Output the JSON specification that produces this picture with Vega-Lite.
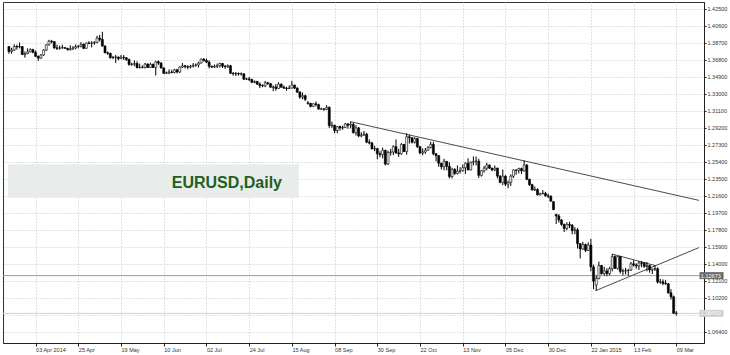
{
  "$schema": "https://vega.github.io/schema/vega-lite/v6.json",
  "autosize": {"type": "none"},
  "padding": {"left": 3, "top": 2, "right": 26, "bottom": 12},
  "width": 701,
  "height": 341,
  "background": "white",
  "config": {
    "view": {"stroke": "#333333", "strokeWidth": 1},
    "axis": {"labelFont": "Liberation Sans", "labelFontSize": 5.5, "labelColor": "#333333", "domainColor": "#222222", "tickColor": "#222222", "gridColor": "#c4c4c4", "gridDash": [1, 2], "labelOverlap": false, "labelFlush": false, "labelBound": false}
  },
  "datasets": {
    "bars": [
      {"i":-10,"o":1.3830,"h":1.3835,"l":1.3750,"c":1.3775},
      {"i":-9,"o":1.3775,"h":1.3815,"l":1.3750,"c":1.3790},
      {"i":-8,"o":1.3790,"h":1.3855,"l":1.3780,"c":1.3830},
      {"i":-7,"o":1.3830,"h":1.3850,"l":1.3795,"c":1.3825},
      {"i":-6,"o":1.3825,"h":1.3875,"l":1.3810,"c":1.3830},
      {"i":-5,"o":1.3830,"h":1.3835,"l":1.3735,"c":1.3740},
      {"i":-4,"o":1.3740,"h":1.3775,"l":1.3705,"c":1.3750},
      {"i":-3,"o":1.3750,"h":1.3810,"l":1.3745,"c":1.3770},
      {"i":-2,"o":1.3770,"h":1.3810,"l":1.3765,"c":1.3795},
      {"i":-1,"o":1.3795,"h":1.3805,"l":1.3755,"c":1.3765},
      {"i":0,"o":1.3765,"h":1.3785,"l":1.3715,"c":1.3720},
      {"i":1,"o":1.3720,"h":1.3730,"l":1.3670,"c":1.3700},
      {"i":2,"o":1.3700,"h":1.3745,"l":1.3695,"c":1.3735},
      {"i":3,"o":1.3735,"h":1.3800,"l":1.3725,"c":1.3790},
      {"i":4,"o":1.3790,"h":1.3855,"l":1.3780,"c":1.3850},
      {"i":5,"o":1.3850,"h":1.3905,"l":1.3840,"c":1.3890},
      {"i":6,"o":1.3890,"h":1.3905,"l":1.3865,"c":1.3885},
      {"i":7,"o":1.3885,"h":1.3890,"l":1.3805,"c":1.3815},
      {"i":8,"o":1.3815,"h":1.3850,"l":1.3790,"c":1.3810},
      {"i":9,"o":1.3810,"h":1.3840,"l":1.3795,"c":1.3815},
      {"i":10,"o":1.3815,"h":1.3850,"l":1.3805,"c":1.3818},
      {"i":11,"o":1.3818,"h":1.3825,"l":1.3805,"c":1.3810},
      {"i":12,"o":1.3810,"h":1.3815,"l":1.3785,"c":1.3795},
      {"i":13,"o":1.3795,"h":1.3845,"l":1.3785,"c":1.3805},
      {"i":14,"o":1.3805,"h":1.3835,"l":1.3790,"c":1.3815},
      {"i":15,"o":1.3815,"h":1.3855,"l":1.3800,"c":1.3830},
      {"i":16,"o":1.3830,"h":1.3845,"l":1.3810,"c":1.3835},
      {"i":17,"o":1.3835,"h":1.3880,"l":1.3820,"c":1.3855},
      {"i":18,"o":1.3855,"h":1.3865,"l":1.3800,"c":1.3810},
      {"i":19,"o":1.3810,"h":1.3875,"l":1.3805,"c":1.3870},
      {"i":20,"o":1.3870,"h":1.3890,"l":1.3855,"c":1.3865},
      {"i":21,"o":1.3865,"h":1.3890,"l":1.3820,"c":1.3870},
      {"i":22,"o":1.3870,"h":1.3890,"l":1.3850,"c":1.3875},
      {"i":23,"o":1.3875,"h":1.3950,"l":1.3865,"c":1.3925},
      {"i":24,"o":1.3925,"h":1.3960,"l":1.3885,"c":1.3910},
      {"i":25,"o":1.3910,"h":1.3995,"l":1.3830,"c":1.3835},
      {"i":26,"o":1.3835,"h":1.3845,"l":1.3755,"c":1.3760},
      {"i":27,"o":1.3760,"h":1.3775,"l":1.3735,"c":1.3755},
      {"i":28,"o":1.3755,"h":1.3760,"l":1.3695,"c":1.3705},
      {"i":29,"o":1.3705,"h":1.3725,"l":1.3690,"c":1.3710},
      {"i":30,"o":1.3710,"h":1.3735,"l":1.3645,"c":1.3712},
      {"i":31,"o":1.3712,"h":1.3720,"l":1.3675,"c":1.3695},
      {"i":32,"o":1.3695,"h":1.3735,"l":1.3690,"c":1.3710},
      {"i":33,"o":1.3710,"h":1.3735,"l":1.3680,"c":1.3705},
      {"i":34,"o":1.3705,"h":1.3710,"l":1.3670,"c":1.3685},
      {"i":35,"o":1.3685,"h":1.3695,"l":1.3615,"c":1.3630},
      {"i":36,"o":1.3630,"h":1.3650,"l":1.3615,"c":1.3632},
      {"i":37,"o":1.3632,"h":1.3675,"l":1.3610,"c":1.3640},
      {"i":38,"o":1.3640,"h":1.3665,"l":1.3585,"c":1.3595},
      {"i":39,"o":1.3595,"h":1.3640,"l":1.3585,"c":1.3598},
      {"i":40,"o":1.3598,"h":1.3620,"l":1.3585,"c":1.3595},
      {"i":41,"o":1.3595,"h":1.3645,"l":1.3585,"c":1.3635},
      {"i":42,"o":1.3635,"h":1.3640,"l":1.3590,"c":1.3595},
      {"i":43,"o":1.3595,"h":1.3650,"l":1.3590,"c":1.3630},
      {"i":44,"o":1.3630,"h":1.3640,"l":1.3590,"c":1.3595},
      {"i":45,"o":1.3595,"h":1.3670,"l":1.3505,"c":1.3660},
      {"i":46,"o":1.3660,"h":1.3675,"l":1.3625,"c":1.3645},
      {"i":47,"o":1.3645,"h":1.3655,"l":1.3585,"c":1.3590},
      {"i":48,"o":1.3590,"h":1.3600,"l":1.3525,"c":1.3530},
      {"i":49,"o":1.3530,"h":1.3550,"l":1.3525,"c":1.3535},
      {"i":50,"o":1.3535,"h":1.3575,"l":1.3520,"c":1.3545},
      {"i":51,"o":1.3545,"h":1.3570,"l":1.3530,"c":1.3540},
      {"i":52,"o":1.3540,"h":1.3580,"l":1.3530,"c":1.3570},
      {"i":53,"o":1.3570,"h":1.3580,"l":1.3530,"c":1.3545},
      {"i":54,"o":1.3545,"h":1.3610,"l":1.3535,"c":1.3600},
      {"i":55,"o":1.3600,"h":1.3645,"l":1.3590,"c":1.3615},
      {"i":56,"o":1.3615,"h":1.3625,"l":1.3585,"c":1.3605},
      {"i":57,"o":1.3605,"h":1.3620,"l":1.3575,"c":1.3600},
      {"i":58,"o":1.3600,"h":1.3625,"l":1.3585,"c":1.3610},
      {"i":59,"o":1.3610,"h":1.3645,"l":1.3595,"c":1.3620},
      {"i":60,"o":1.3620,"h":1.3640,"l":1.3605,"c":1.3623},
      {"i":61,"o":1.3623,"h":1.3660,"l":1.3595,"c":1.3645},
      {"i":62,"o":1.3645,"h":1.3695,"l":1.3640,"c":1.3690},
      {"i":63,"o":1.3690,"h":1.3700,"l":1.3660,"c":1.3675},
      {"i":64,"o":1.3675,"h":1.3695,"l":1.3645,"c":1.3655},
      {"i":65,"o":1.3655,"h":1.3675,"l":1.3585,"c":1.3610},
      {"i":66,"o":1.3610,"h":1.3615,"l":1.3590,"c":1.3600},
      {"i":67,"o":1.3600,"h":1.3630,"l":1.3590,"c":1.3610},
      {"i":68,"o":1.3610,"h":1.3640,"l":1.3590,"c":1.3615},
      {"i":69,"o":1.3615,"h":1.3650,"l":1.3595,"c":1.3640},
      {"i":70,"o":1.3640,"h":1.3645,"l":1.3590,"c":1.3610},
      {"i":71,"o":1.3610,"h":1.3625,"l":1.3580,"c":1.3605},
      {"i":72,"o":1.3605,"h":1.3630,"l":1.3590,"c":1.3615},
      {"i":73,"o":1.3615,"h":1.3625,"l":1.3525,"c":1.3530},
      {"i":74,"o":1.3530,"h":1.3545,"l":1.3505,"c":1.3525},
      {"i":75,"o":1.3525,"h":1.3545,"l":1.3500,"c":1.3528},
      {"i":76,"o":1.3528,"h":1.3540,"l":1.3505,"c":1.3522},
      {"i":77,"o":1.3522,"h":1.3540,"l":1.3505,"c":1.3525},
      {"i":78,"o":1.3525,"h":1.3530,"l":1.3455,"c":1.3465},
      {"i":79,"o":1.3465,"h":1.3480,"l":1.3455,"c":1.3468},
      {"i":80,"o":1.3468,"h":1.3490,"l":1.3445,"c":1.3460},
      {"i":81,"o":1.3460,"h":1.3470,"l":1.3420,"c":1.3430},
      {"i":82,"o":1.3430,"h":1.3450,"l":1.3420,"c":1.3440},
      {"i":83,"o":1.3440,"h":1.3445,"l":1.3400,"c":1.3410},
      {"i":84,"o":1.3410,"h":1.3430,"l":1.3365,"c":1.3395},
      {"i":85,"o":1.3395,"h":1.3405,"l":1.3375,"c":1.3390},
      {"i":86,"o":1.3390,"h":1.3445,"l":1.3375,"c":1.3425},
      {"i":87,"o":1.3425,"h":1.3435,"l":1.3400,"c":1.3415},
      {"i":88,"o":1.3415,"h":1.3420,"l":1.3370,"c":1.3375},
      {"i":89,"o":1.3375,"h":1.3395,"l":1.3330,"c":1.3378},
      {"i":90,"o":1.3378,"h":1.3410,"l":1.3335,"c":1.3360},
      {"i":91,"o":1.3360,"h":1.3430,"l":1.3355,"c":1.3410},
      {"i":92,"o":1.3410,"h":1.3415,"l":1.3370,"c":1.3375},
      {"i":93,"o":1.3375,"h":1.3395,"l":1.3355,"c":1.3365},
      {"i":94,"o":1.3365,"h":1.3380,"l":1.3335,"c":1.3360},
      {"i":95,"o":1.3360,"h":1.3395,"l":1.3355,"c":1.3365},
      {"i":96,"o":1.3365,"h":1.3445,"l":1.3360,"c":1.3400},
      {"i":97,"o":1.3400,"h":1.3402,"l":1.3355,"c":1.3365},
      {"i":98,"o":1.3365,"h":1.3375,"l":1.3310,"c":1.3320},
      {"i":99,"o":1.3320,"h":1.3330,"l":1.3245,"c":1.3265},
      {"i":100,"o":1.3265,"h":1.3315,"l":1.3240,"c":1.3280},
      {"i":101,"o":1.3280,"h":1.3290,"l":1.3220,"c":1.3240},
      {"i":102,"o":1.3200,"h":1.3220,"l":1.3180,"c":1.3195},
      {"i":103,"o":1.3195,"h":1.3200,"l":1.3150,"c":1.3160},
      {"i":104,"o":1.3160,"h":1.3195,"l":1.3155,"c":1.3190},
      {"i":105,"o":1.3190,"h":1.3215,"l":1.3160,"c":1.3180},
      {"i":106,"o":1.3180,"h":1.3190,"l":1.3125,"c":1.3130},
      {"i":107,"o":1.3130,"h":1.3145,"l":1.3120,"c":1.3133},
      {"i":108,"o":1.3133,"h":1.3140,"l":1.3110,"c":1.3128},
      {"i":109,"o":1.3128,"h":1.3175,"l":1.3120,"c":1.3150},
      {"i":110,"o":1.3150,"h":1.3160,"l":1.2920,"c":1.2945},
      {"i":111,"o":1.2945,"h":1.2990,"l":1.2920,"c":1.2950},
      {"i":112,"o":1.2950,"h":1.2955,"l":1.2860,"c":1.2890},
      {"i":113,"o":1.2890,"h":1.2940,"l":1.2860,"c":1.2935},
      {"i":114,"o":1.2935,"h":1.2945,"l":1.2890,"c":1.2920},
      {"i":115,"o":1.2920,"h":1.2945,"l":1.2900,"c":1.2925},
      {"i":116,"o":1.2925,"h":1.2975,"l":1.2920,"c":1.2965},
      {"i":117,"o":1.2965,"h":1.2970,"l":1.2910,"c":1.2950},
      {"i":118,"o":1.2950,"h":1.2990,"l":1.2915,"c":1.2960},
      {"i":119,"o":1.2960,"h":1.2975,"l":1.2860,"c":1.2865},
      {"i":120,"o":1.2865,"h":1.2950,"l":1.2835,"c":1.2920},
      {"i":121,"o":1.2920,"h":1.2930,"l":1.2815,"c":1.2830},
      {"i":122,"o":1.2830,"h":1.2870,"l":1.2815,"c":1.2840},
      {"i":123,"o":1.2840,"h":1.2885,"l":1.2830,"c":1.2850},
      {"i":124,"o":1.2850,"h":1.2865,"l":1.2750,"c":1.2760},
      {"i":125,"o":1.2760,"h":1.2790,"l":1.2735,"c":1.2750},
      {"i":126,"o":1.2750,"h":1.2765,"l":1.2680,"c":1.2685},
      {"i":127,"o":1.2685,"h":1.2720,"l":1.2660,"c":1.2688},
      {"i":128,"o":1.2688,"h":1.2695,"l":1.2570,"c":1.2630},
      {"i":129,"o":1.2630,"h":1.2660,"l":1.2590,"c":1.2620},
      {"i":130,"o":1.2620,"h":1.2700,"l":1.2580,"c":1.2670},
      {"i":131,"o":1.2670,"h":1.2675,"l":1.2500,"c":1.2515},
      {"i":132,"o":1.2515,"h":1.2665,"l":1.2505,"c":1.2645},
      {"i":133,"o":1.2645,"h":1.2685,"l":1.2610,"c":1.2650},
      {"i":134,"o":1.2650,"h":1.2725,"l":1.2615,"c":1.2710},
      {"i":135,"o":1.2710,"h":1.2790,"l":1.2630,"c":1.2640},
      {"i":136,"o":1.2640,"h":1.2685,"l":1.2595,"c":1.2630},
      {"i":137,"o":1.2630,"h":1.2750,"l":1.2620,"c":1.2735},
      {"i":138,"o":1.2735,"h":1.2740,"l":1.2650,"c":1.2655},
      {"i":139,"o":1.2655,"h":1.2860,"l":1.2620,"c":1.2820},
      {"i":140,"o":1.2820,"h":1.2845,"l":1.2745,"c":1.2810},
      {"i":141,"o":1.2810,"h":1.2815,"l":1.2745,"c":1.2760},
      {"i":142,"o":1.2760,"h":1.2815,"l":1.2745,"c":1.2800},
      {"i":143,"o":1.2800,"h":1.2810,"l":1.2695,"c":1.2710},
      {"i":144,"o":1.2710,"h":1.2715,"l":1.2625,"c":1.2640},
      {"i":145,"o":1.2640,"h":1.2690,"l":1.2615,"c":1.2650},
      {"i":146,"o":1.2650,"h":1.2695,"l":1.2630,"c":1.2670},
      {"i":147,"o":1.2670,"h":1.2715,"l":1.2665,"c":1.2700},
      {"i":148,"o":1.2700,"h":1.2765,"l":1.2690,"c":1.2735},
      {"i":149,"o":1.2735,"h":1.2765,"l":1.2615,"c":1.2630},
      {"i":150,"o":1.2630,"h":1.2640,"l":1.2545,"c":1.2610},
      {"i":151,"o":1.2610,"h":1.2615,"l":1.2485,"c":1.2525},
      {"i":152,"o":1.2525,"h":1.2530,"l":1.2455,"c":1.2485},
      {"i":153,"o":1.2485,"h":1.2575,"l":1.2445,"c":1.2545},
      {"i":154,"o":1.2545,"h":1.2550,"l":1.2445,"c":1.2490},
      {"i":155,"o":1.2490,"h":1.2535,"l":1.2355,"c":1.2375},
      {"i":156,"o":1.2375,"h":1.2475,"l":1.2355,"c":1.2455},
      {"i":157,"o":1.2455,"h":1.2470,"l":1.2395,"c":1.2410},
      {"i":158,"o":1.2410,"h":1.2500,"l":1.2400,"c":1.2435},
      {"i":159,"o":1.2435,"h":1.2480,"l":1.2410,"c":1.2440},
      {"i":160,"o":1.2440,"h":1.2510,"l":1.2430,"c":1.2475},
      {"i":161,"o":1.2475,"h":1.2535,"l":1.2405,"c":1.2525},
      {"i":162,"o":1.2525,"h":1.2580,"l":1.2445,"c":1.2450},
      {"i":163,"o":1.2450,"h":1.2545,"l":1.2445,"c":1.2535},
      {"i":164,"o":1.2535,"h":1.2600,"l":1.2500,"c":1.2545},
      {"i":165,"o":1.2545,"h":1.2600,"l":1.2500,"c":1.2548},
      {"i":166,"o":1.2548,"h":1.2575,"l":1.2360,"c":1.2390},
      {"i":167,"o":1.2390,"h":1.2445,"l":1.2375,"c":1.2440},
      {"i":168,"o":1.2440,"h":1.2495,"l":1.2420,"c":1.2470},
      {"i":169,"o":1.2470,"h":1.2530,"l":1.2445,"c":1.2505},
      {"i":170,"o":1.2505,"h":1.2510,"l":1.2460,"c":1.2470},
      {"i":171,"o":1.2470,"h":1.2475,"l":1.2435,"c":1.2450},
      {"i":172,"o":1.2450,"h":1.2500,"l":1.2435,"c":1.2470},
      {"i":173,"o":1.2470,"h":1.2475,"l":1.2355,"c":1.2380},
      {"i":174,"o":1.2380,"h":1.2390,"l":1.2300,"c":1.2310},
      {"i":175,"o":1.2310,"h":1.2455,"l":1.2280,"c":1.2380},
      {"i":176,"o":1.2380,"h":1.2390,"l":1.2270,"c":1.2290},
      {"i":177,"o":1.2290,"h":1.2330,"l":1.2245,"c":1.2310},
      {"i":178,"o":1.2310,"h":1.2400,"l":1.2270,"c":1.2380},
      {"i":179,"o":1.2380,"h":1.2455,"l":1.2360,"c":1.2450},
      {"i":180,"o":1.2450,"h":1.2455,"l":1.2395,"c":1.2445},
      {"i":181,"o":1.2445,"h":1.2475,"l":1.2410,"c":1.2465},
      {"i":182,"o":1.2465,"h":1.2475,"l":1.2405,"c":1.2440},
      {"i":183,"o":1.2440,"h":1.2555,"l":1.2430,"c":1.2505},
      {"i":184,"o":1.2505,"h":1.2515,"l":1.2335,"c":1.2345},
      {"i":185,"o":1.2345,"h":1.2350,"l":1.2270,"c":1.2285},
      {"i":186,"o":1.2285,"h":1.2295,"l":1.2220,"c":1.2225},
      {"i":187,"o":1.2225,"h":1.2265,"l":1.2215,"c":1.2230},
      {"i":188,"o":1.2230,"h":1.2245,"l":1.2165,"c":1.2170},
      {"i":189,"o":1.2170,"h":1.2195,"l":1.2165,"c":1.2185},
      {"i":190,"o":1.2185,"h":1.2225,"l":1.2175,"c":1.2188},
      {"i":191,"o":1.2188,"h":1.2205,"l":1.2150,"c":1.2160},
      {"i":192,"o":1.2160,"h":1.2185,"l":1.2135,"c":1.2155},
      {"i":193,"o":1.2155,"h":1.2165,"l":1.2095,"c":1.2100},
      {"i":194,"o":1.2095,"h":1.2100,"l":1.2000,"c":1.2005},
      {"i":195,"o":1.1950,"h":1.1960,"l":1.1845,"c":1.1935},
      {"i":196,"o":1.1935,"h":1.1955,"l":1.1860,"c":1.1890},
      {"i":197,"o":1.1890,"h":1.1900,"l":1.1825,"c":1.1840},
      {"i":198,"o":1.1840,"h":1.1850,"l":1.1755,"c":1.1795},
      {"i":199,"o":1.1795,"h":1.1865,"l":1.1775,"c":1.1840},
      {"i":200,"o":1.1840,"h":1.1870,"l":1.1800,"c":1.1830},
      {"i":201,"o":1.1830,"h":1.1845,"l":1.1730,"c":1.1770},
      {"i":202,"o":1.1770,"h":1.1810,"l":1.1730,"c":1.1780},
      {"i":203,"o":1.1780,"h":1.1800,"l":1.1570,"c":1.1625},
      {"i":204,"o":1.1625,"h":1.1630,"l":1.1460,"c":1.1565},
      {"i":205,"o":1.1565,"h":1.1645,"l":1.1555,"c":1.1615},
      {"i":206,"o":1.1615,"h":1.1625,"l":1.1530,"c":1.1550},
      {"i":207,"o":1.1550,"h":1.1640,"l":1.1545,"c":1.1610},
      {"i":208,"o":1.1610,"h":1.1680,"l":1.1315,"c":1.1365},
      {"i":209,"o":1.1365,"h":1.1390,"l":1.1115,"c":1.1205},
      {"i":210,"o":1.1160,"h":1.1270,"l":1.1098,"c":1.1235},
      {"i":211,"o":1.1235,"h":1.1425,"l":1.1225,"c":1.1380},
      {"i":212,"o":1.1380,"h":1.1385,"l":1.1280,"c":1.1290},
      {"i":213,"o":1.1290,"h":1.1365,"l":1.1265,"c":1.1320},
      {"i":214,"o":1.1320,"h":1.1350,"l":1.1260,"c":1.1290},
      {"i":215,"o":1.1290,"h":1.1365,"l":1.1270,"c":1.1345},
      {"i":216,"o":1.1345,"h":1.1510,"l":1.1315,"c":1.1480},
      {"i":217,"o":1.1480,"h":1.1495,"l":1.1345,"c":1.1348},
      {"i":218,"o":1.1348,"h":1.1490,"l":1.1335,"c":1.1480},
      {"i":219,"o":1.1480,"h":1.1488,"l":1.1290,"c":1.1315},
      {"i":220,"o":1.1315,"h":1.1345,"l":1.1270,"c":1.1320},
      {"i":221,"o":1.1320,"h":1.1355,"l":1.1280,"c":1.1323},
      {"i":222,"o":1.1323,"h":1.1340,"l":1.1265,"c":1.1330},
      {"i":223,"o":1.1330,"h":1.1420,"l":1.1320,"c":1.1400},
      {"i":224,"o":1.1400,"h":1.1440,"l":1.1370,"c":1.1385},
      {"i":225,"o":1.1385,"h":1.1405,"l":1.1345,"c":1.1375},
      {"i":226,"o":1.1375,"h":1.1430,"l":1.1330,"c":1.1410},
      {"i":227,"o":1.1410,"h":1.1430,"l":1.1360,"c":1.1405},
      {"i":228,"o":1.1405,"h":1.1420,"l":1.1355,"c":1.1370},
      {"i":229,"o":1.1370,"h":1.1420,"l":1.1315,"c":1.1380},
      {"i":230,"o":1.1380,"h":1.1390,"l":1.1300,"c":1.1330},
      {"i":231,"o":1.1330,"h":1.1345,"l":1.1285,"c":1.1340},
      {"i":232,"o":1.1340,"h":1.1380,"l":1.1320,"c":1.1345},
      {"i":233,"o":1.1345,"h":1.1360,"l":1.1180,"c":1.1195},
      {"i":234,"o":1.1195,"h":1.1230,"l":1.1175,"c":1.1198},
      {"i":235,"o":1.1198,"h":1.1225,"l":1.1160,"c":1.1180},
      {"i":236,"o":1.1180,"h":1.1220,"l":1.1165,"c":1.1175},
      {"i":237,"o":1.1175,"h":1.1185,"l":1.1065,"c":1.1075},
      {"i":238,"o":1.1075,"h":1.1115,"l":1.1000,"c":1.1030},
      {"i":239,"o":1.1030,"h":1.1045,"l":1.0840,"c":1.0845},
      {"i":240,"o":1.0845,"h":1.0870,"l":1.0820,"c":1.0850}
    ],
    "trend": [
      {"x1": 118.0, "y1": 1.2989, "x2": 248.5, "y2": 1.2109},
      {"x1": 215.9, "y1": 1.1509, "x2": 232.3, "y2": 1.1378},
      {"x1": 209.8, "y1": 1.1099, "x2": 248.5, "y2": 1.1581}
    ],
    "levels": [
      {"price": 1.12673, "label": "1.12673", "kind": "hline"},
      {"price": 1.0845, "label": "1.08450", "kind": "bid"}
    ]
  },
  "layer": [
    {
      "data": {"values": [{"label": "EURUSD,Daily"}]},
      "mark": {"type": "rect", "fill": "#e8ecea", "clip": true},
      "encoding": {
        "x": {"datum": -10.34, "type": "quantitative", "title": null, "scale": {"domain": [-10.34, 248.5], "nice": false, "zero": false},
          "axis": {"orient": "bottom", "values": [0,16,32,48,64,80,96,112,128,144,160,176,192,208,224,240], "tickCount": 40,
            "labelExpr": "['03 Apr 2014','25 Apr','19 May','10 Jun','02 Jul','24 Jul','15 Aug','08 Sep','30 Sep','22 Oct','13 Nov','05 Dec','30 Dec','22 Jan 2015','13 Feb','09 Mar'][round(datum.value/16)]",
            "labelAlign": "left", "labelPadding": 1, "tickSize": 3, "grid": true, "labelOverlap": false, "labelFlush": false, "title": null}},
        "x2": {"datum": 98.6},
        "y": {"datum": 1.2513, "type": "quantitative", "title": null, "scale": {"domain": [1.05135, 1.43283], "nice": false, "zero": false},
          "axis": {"orient": "right", "values": [1.064,1.083,1.102,1.121,1.14,1.159,1.178,1.197,1.216,1.235,1.254,1.273,1.292,1.311,1.33,1.349,1.368,1.387,1.406,1.425], "tickCount": 40,
            "labelExpr": "abs(datum.value - 1.083) < 0.0001 ? '' : format(datum.value, '.5f')", "labelPadding": 1, "tickSize": 2, "grid": true, "labelOverlap": false, "labelFlush": false, "title": null}},
        "y2": {"datum": 1.2139}
      }
    },
    {
      "data": {"name": "levels"},
      "mark": {"type": "rule", "strokeWidth": 1},
      "encoding": {
        "y": {"field": "price", "type": "quantitative", "title": null, "scale": {"domain": [1.05135, 1.43283], "nice": false, "zero": false}},
        "stroke": {"condition": {"test": "datum.kind == 'hline'", "value": "#9a9a9a"}, "value": "#cfcfcf"}
      }
    },
    {
      "data": {"name": "trend"},
      "mark": {"type": "rule", "color": "#4a4a4a", "strokeWidth": 1, "clip": true},
      "encoding": {
        "x": {"field": "x1", "type": "quantitative", "title": null, "scale": {"domain": [-10.34, 248.5], "nice": false, "zero": false}},
        "x2": {"field": "x2"},
        "y": {"field": "y1", "type": "quantitative", "title": null, "scale": {"domain": [1.05135, 1.43283], "nice": false, "zero": false}},
        "y2": {"field": "y2"}
      }
    },
    {
      "data": {"name": "bars"},
      "mark": {"type": "rule", "color": "#000000", "strokeWidth": 1, "clip": true},
      "encoding": {
        "x": {"field": "i", "type": "quantitative", "title": null, "scale": {"domain": [-10.34, 248.5], "nice": false, "zero": false}},
        "y": {"field": "l", "type": "quantitative", "title": null, "scale": {"domain": [1.05135, 1.43283], "nice": false, "zero": false}},
        "y2": {"field": "h"}
      }
    },
    {
      "data": {"name": "bars"},
      "mark": {"type": "bar", "size": 2, "stroke": "#000000", "strokeWidth": 0.6, "clip": true},
      "encoding": {
        "x": {"field": "i", "type": "quantitative", "title": null, "scale": {"domain": [-10.34, 248.5], "nice": false, "zero": false}},
        "y": {"field": "o", "type": "quantitative", "title": null, "scale": {"domain": [1.05135, 1.43283], "nice": false, "zero": false}},
        "y2": {"field": "c"},
        "fill": {"condition": {"test": "datum.c >= datum.o", "value": "#ffffff"}, "value": "#000000"}
      }
    },
    {
      "data": {"values": [{"label": "EURUSD,Daily"}]},
      "mark": {"type": "text", "align": "right", "baseline": "middle", "font": "Liberation Sans", "fontWeight": "bold", "fontSize": 16, "fill": "#1f5f1f"},
      "encoding": {
        "x": {"datum": 92.3, "type": "quantitative", "title": null, "scale": {"domain": [-10.34, 248.5], "nice": false, "zero": false}},
        "y": {"datum": 1.2309, "type": "quantitative", "title": null, "scale": {"domain": [1.05135, 1.43283], "nice": false, "zero": false}},
        "text": {"field": "label"}
      }
    },
    {
      "data": {"name": "levels"},
      "mark": {"type": "tick", "orient": "horizontal", "size": 24, "thickness": 7, "clip": false, "opacity": 1},
      "encoding": {
        "x": {"datum": 253.2, "type": "quantitative", "title": null, "scale": {"domain": [-10.34, 248.5], "nice": false, "zero": false}},
        "y": {"field": "price", "type": "quantitative", "title": null, "scale": {"domain": [1.05135, 1.43283], "nice": false, "zero": false}},
        "color": {"condition": {"test": "datum.kind == 'hline'", "value": "#6a6a6a"}, "value": "#cfcfcf"}
      }
    },
    {
      "data": {"name": "levels"},
      "mark": {"type": "text", "align": "left", "baseline": "middle", "font": "Liberation Sans", "fontSize": 5.5, "clip": false},
      "encoding": {
        "x": {"datum": 249.2, "type": "quantitative", "title": null, "scale": {"domain": [-10.34, 248.5], "nice": false, "zero": false}},
        "y": {"field": "price", "type": "quantitative", "title": null, "scale": {"domain": [1.05135, 1.43283], "nice": false, "zero": false}},
        "text": {"field": "label"},
        "fill": {"condition": {"test": "datum.kind == 'hline'", "value": "#ffffff"}, "value": "#f7f7f7"}
      }
    }
  ]
}
